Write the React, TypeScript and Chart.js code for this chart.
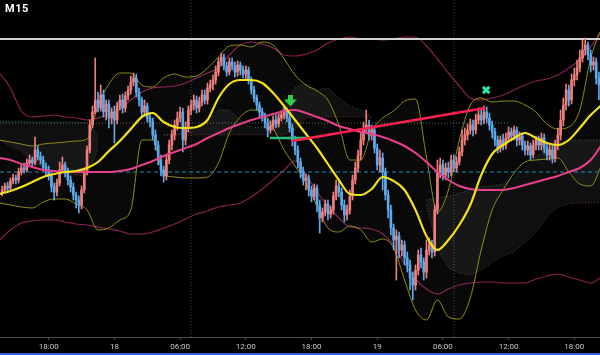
import React, { useEffect, useRef } from "react";
import { Chart, registerables } from "chart.js";
Chart.register(...registerables);

// ---- candles (15-minute bars, price in chart units, larger = lower on screen) ----
const firstBar = 1;
const opens = [
  193,190,186,188,181,178,180,172,168,170, 163,160,163,150,157,160,167,170,176,187,
  192,183,170,165,172,180,187,195,200,205, 190,172,150,125,112,100,108,95,112,104,
  118,112,120,106,100,108,96,90,82,78, 92,100,112,106,118,122,135,145,160,170,
  176,160,145,135,125,118,112,140,128,110, 105,100,108,102,95,100,88,85,80,72,
  62,57,66,72,62,66,72,65,70,74, 70,80,90,98,105,112,117,123,130,126,
  120,124,118,115,110,118,128,140,150,162, 172,180,178,190,196,188,205,218,212,204,
  214,210,196,186,192,205,215,210,196,180, 168,155,140,128,125,135,130,148,165,158,
  172,195,210,228,240,236,250,245,258,265, 278,285,270,255,262,272,250,245,252,210,
  172,165,175,168,172,160,168,162,152,140, 135,130,125,130,120,115,120,112,118,125,
  132,140,148,140,145,138,132,136,130,140, 136,145,150,146,155,145,140,145,138,148,
  155,150,158,145,135,120,105,90,100,80, 75,68,58,50,45,55,65,62,78,
];
const highs = [
  186,183,182,178,174,175,168,164,163,159, 155,157,137,146,152,156,163,166,173,183,
  179,162,157,162,168,176,183,192,196,186, 168,146,120,106,58,92,85,90,100,100,
  108,106,102,95,94,92,86,76,73,74, 88,97,100,103,113,118,130,141,155,166,
  155,140,130,120,112,107,108,122,106,100, 95,96,97,90,90,83,80,75,66,58,
  53,54,62,58,58,62,61,62,66,66, 67,77,86,95,102,108,113,119,121,116,
  115,114,111,107,108,114,124,136,146,158, 167,174,175,186,184,185,200,208,200,200,
  206,192,180,182,188,200,205,190,175,162, 150,133,122,110,120,125,126,144,150,153,
  168,190,205,224,230,232,240,241,252,260, 272,265,250,248,258,240,238,240,205,160,
  158,160,163,162,155,155,157,147,130,128, 124,119,120,114,108,110,106,107,113,121,
  128,136,136,134,133,127,128,126,127,132, 133,141,141,143,140,136,136,133,134,144,
  145,146,140,128,110,98,84,85,74,68, 60,50,40,38,42,50,57,58,72,
];
const lows = [
  196,192,191,190,184,184,183,175,173,172, 165,167,165,160,164,171,175,180,192,200,
  196,186,172,177,185,192,200,208,213,209, 193,175,153,128,114,112,111,117,120,128,
  124,143,124,110,113,112,100,94,86,97, 106,117,116,122,127,140,150,165,176,182,
  180,164,150,140,130,122,152,145,132,115, 110,113,112,106,104,104,92,90,84,76,
  66,70,76,75,70,77,76,75,78,79, 84,94,102,110,117,121,128,137,133,130,
  128,127,121,119,122,132,146,155,168,178, 185,190,196,202,200,212,233,222,216,220,
  218,214,200,197,210,222,220,214,200,184, 172,160,145,132,140,140,153,170,172,190,
  200,218,235,250,280,258,256,265,272,290, 300,290,275,268,280,278,255,258,256,214,
  178,180,180,178,176,172,172,165,156,145, 140,134,136,134,124,125,124,123,130,138,
  146,153,152,150,149,142,141,140,146,145, 150,155,155,160,158,150,150,150,153,160,
  160,163,162,150,140,126,110,106,104,86, 80,72,62,55,60,72,70,84,100,
];
const closes = [
  190,186,188,181,178,180,172,168,170,163, 160,163,150,157,160,167,170,176,187,192,
  183,170,165,172,180,187,195,200,205,190, 172,150,125,112,100,108,95,112,104,118,
  112,120,106,100,108,96,90,82,78,92, 100,112,106,118,122,135,145,160,170,176,
  160,145,135,125,118,112,140,128,110,105, 100,108,102,95,100,88,85,80,72,62,
  57,66,72,62,66,72,65,70,74,70, 80,90,98,105,112,117,123,130,126,120,
  124,118,115,110,118,128,140,150,162,172, 180,178,190,196,188,205,218,212,204,214,
  210,196,186,192,205,215,210,196,180,168, 155,140,128,125,135,130,148,165,158,172,
  195,210,228,240,236,250,245,258,265,278, 285,270,255,262,272,250,245,252,210,172,
  165,175,168,172,160,168,162,152,140,135, 130,125,130,120,115,120,112,118,125,132,
  140,148,140,145,138,132,136,130,140,136, 145,150,146,155,145,140,145,138,148,155,
  150,158,145,135,120,105,90,100,80,75, 68,58,50,45,55,65,62,78,85,
];

// ---- time axis ----
const tickIndex = [18, 42, 66, 90, 114, 138, 162, 186, 210];
const tickLabels = ["18:00", "18", "06:00", "12:00", "18:00", "19", "06:00", "12:00", "18:00"];
const viewStart = 0.21;
const viewEnd = 219.39;
const sessionMarks = [70, 166];

// ---- indicators sampled every 4 bars ----
const gridIdx = [
  0,4,8,12,16,20,24,28,32,36,40,44,48,52,56,60,64,68,72,76,80,84,88,92,96,100,104,108,
  112,116,120,124,128,132,136,140,144,148,152,156,160,164,168,172,176,180,184,188,192,
  196,200,204,208,212,216,220,
];
const yellowMA = [
  194,191,187,182,177,174,172,171,168,162, 151,141,129,117,113,122,127,128,127,120,
  98,84,80,80,83,93,106,120,134,148, 164,180,194,195,189,177,181,190,210,236,
  250,240,225,205,175,154,145,138,133,138, 143,145,140,128,115,105,
];
const pinkMA = [
  158,160,164,167,170,171,172,172,172,172, 172,171,169,165,161,156,152,148,144,138,
  133,128,124,120,117,114,111,110,113,117, 121,126,129,132,134,137,141,146,153,162,
  172,180,186,189,190,190,190,188,185,182, 179,176,172,168,160,145,
];
const bbUpper = [
  140,142,144,146,144,143,142,141,139,106, 84,73,73,85,87,78,74,77,76,68,
  57,46,45,47,42,45,59,75,85,91, 100,125,160,160,131,118,111,101,99,157,
  212,190,140,105,98,102,101,101,105,112, 124,129,127,110,58,28,
];
const bbLower = [
  203,205,207,208,202,199,199,204,210,230, 228,220,210,140,140,174,177,178,178,177,
  163,133,117,110,112,128,150,166,183,206, 228,232,226,230,242,239,248,280,310,320,
  300,317,319,298,250,210,190,173,162,160, 159,158,172,184,186,165,
];
const envUpper = [
  73,88,111,117,116,115,117,118,120,118, 114,109,100,92,88,87,86,83,78,73,
  68,55,45,42,44,48,55,56,54,50, 43,39,37,39,39,40,39,37,37,46,
  59,73,86,98,100,98,95,90,85,81, 79,75,68,60,47,30,
];
const envLower = [
  240,230,223,221,220,220,222,224,225,227, 229,231,234,234,232,228,224,219,214,211,
  207,205,203,197,189,180,170,161,175,192, 206,218,227,228,229,234,245,264,279,289,
  294,289,285,283,282,282,283,283,283,279, 276,274,277,280,283,277,
];
const cloudTop = [
  121,121,121,122,122,122,122,122,123,135, null,null,null,null,null,135,134,132,128,120,
  110,110,120,128,127,122,105,88,84,90, 88,98,106,110,117,null,null,null,null,200,
  198,196,193,190,187,186,184,178,168,157, 148,143,141,140,140,140,
];
const cloudBottom = [
  140,146,151,161,168,171,173,175,176,150, null,null,null,null,null,135,135,135,135,135,
  135,135,135,135,135,135,135,130,118,117, 117,117,117,117,118,null,null,null,null,205,
  250,268,273,275,270,262,256,252,243,232, 217,207,204,203,203,203,
];

// ---- levels and drawings ----
const levelWhite = 39;
const levelCyan = 172;
const levelDotted = 123;
const levelDottedEnd = 186.5;
const greenIdx = [98.8, 112.7];
const greenPrice = [138, 138];
const trendIdx = [106.9, 177.4];
const trendPrice = [141, 108];
const arrowIdx = 106.3;
const arrowPrice = 101;
const crossIdx = 177.8;
const crossPrice = 90;

const UP = "#ef7f7c";
const DOWN = "#5eaaea";

export default function App() {
  const ref = useRef<HTMLCanvasElement>(null);
  useEffect(() => {
    const canvas = ref.current!;
    const arrow = document.createElement("canvas");
    arrow.width = 13;
    arrow.height = 13;
    const g = arrow.getContext("2d")!;
    g.fillStyle = "#33cf4a";
    g.fillRect(4, 0, 5, 6);
    g.beginPath();
    g.moveTo(0, 5);
    g.lineTo(13, 5);
    g.lineTo(6.5, 12);
    g.closePath();
    g.fill();

    const isUp = (k: number) => closes[k] < opens[k];
    const candleColor = (c: any) => (isUp(c.dataIndex) ? UP : DOWN);
    const series = (vals: (number | null)[]) => gridIdx.map((x, k) => ({ x, y: vals[k] }));
    const seg = (xs: number[], ys: number[]) => xs.map((x, k) => ({ x, y: ys[k] }));
    const lineBase = { type: "line" as const, pointRadius: 0, pointHoverRadius: 0, tension: 0, fill: false, spanGaps: false };

    const datasets: any[] = [
      // markers
      { type: "scatter", data: [{ x: arrowIdx, y: arrowPrice }], pointStyle: arrow, pointRadius: 6, order: 0 },
      { type: "scatter", data: [{ x: crossIdx, y: crossPrice }], pointStyle: "crossRot", pointRadius: 4.5, borderWidth: 3, borderColor: "#2ee8a6", backgroundColor: "#2ee8a6", order: 0 },
      // drawings
      { ...lineBase, data: seg(trendIdx, trendPrice), borderColor: "#ff2152", borderWidth: 2.5, order: 1 },
      { ...lineBase, data: seg(greenIdx, greenPrice), borderColor: "#22c07c", borderWidth: 2.5, order: 1 },
      // moving averages
      { ...lineBase, data: series(yellowMA), borderColor: "#f3e21b", borderWidth: 2.2, cubicInterpolationMode: "monotone", order: 2 },
      { ...lineBase, data: series(pinkMA), borderColor: "#e9408d", borderWidth: 2, cubicInterpolationMode: "monotone", order: 3 },
      // candles
      { type: "bar", data: opens.map((o, k) => ({ x: firstBar + k, y: [o, closes[k]] })), backgroundColor: candleColor, barThickness: 2, minBarLength: 1, grouped: false, borderWidth: 0, order: 4 },
      { type: "bar", data: highs.map((h, k) => ({ x: firstBar + k, y: [h, lows[k]] })), backgroundColor: candleColor, barThickness: 1, grouped: false, borderWidth: 0, order: 5 },
      // levels
      { ...lineBase, data: seg([viewStart, viewEnd], [levelCyan, levelCyan]), borderColor: "#1f8dbb", borderWidth: 1, borderDash: [4, 3], order: 6 },
      { ...lineBase, data: seg([viewStart, viewEnd], [levelWhite, levelWhite]), borderColor: "#d2d2d2", borderWidth: 2, order: 6 },
      { ...lineBase, data: seg([viewStart, levelDottedEnd], [levelDotted, levelDotted]), borderColor: "rgba(110,150,110,0.75)", borderWidth: 1, borderDash: [1, 2], order: 7 },
      // bollinger bands
      { ...lineBase, data: series(bbUpper), borderColor: "#8e8c14", borderWidth: 1, cubicInterpolationMode: "monotone", fill: "+1", backgroundColor: "rgba(255,255,255,0.035)", order: 8 },
      { ...lineBase, data: series(bbLower), borderColor: "#8e8c14", borderWidth: 1, cubicInterpolationMode: "monotone", order: 8 },
      // envelope
      { ...lineBase, data: series(envUpper), borderColor: "#86204f", borderWidth: 1.2, cubicInterpolationMode: "monotone", order: 9 },
      { ...lineBase, data: series(envLower), borderColor: "#86204f", borderWidth: 1.2, cubicInterpolationMode: "monotone", order: 9 },
      // cloud
      { ...lineBase, data: series(cloudTop), borderColor: "rgba(50,110,115,0.8)", borderWidth: 1, borderDash: [1, 2], fill: "+1", backgroundColor: "rgba(255,255,255,0.06)", order: 10 },
      { ...lineBase, data: series(cloudBottom), borderColor: "rgba(125,50,60,0.8)", borderWidth: 1, borderDash: [1, 2], order: 10 },
      // session separators
      ...sessionMarks.map((m) => ({ ...lineBase, data: seg([m, m], [0, 337]), borderColor: "#454545", borderWidth: 1, borderDash: [1, 2], order: 11 })),
    ];

    const chart = new Chart(canvas, {
      type: "bar",
      data: { datasets },
      options: {
        animation: false,
        responsive: false,
        devicePixelRatio: 1,
        layout: { padding: 0, autoPadding: false },
        plugins: { legend: { display: false }, tooltip: { enabled: false } },
        events: [],
        scales: {
          x: {
            type: "linear",
            min: viewStart,
            max: viewEnd,
            offset: false,
            grid: { display: true, drawOnChartArea: false, drawTicks: true, tickLength: 3, color: "#4a4a4a", offset: false },
            border: { display: true, color: "#4a4a4a" },
            ticks: {
              autoSkip: false,
              maxRotation: 0,
              color: "#c8c8c8",
              padding: 2,
              font: { size: 8, family: "Roboto" },
              callback: (v: any) => {
                const k = tickIndex.indexOf(Number(v));
                return k >= 0 ? tickLabels[k] : "";
              },
            },
            afterBuildTicks: (ax: any) => {
              ax.ticks = tickIndex.map((v) => ({ value: v }));
            },
            afterFit: (ax: any) => {
              ax.height = 18;
            },
          },
          y: { type: "linear", min: 0, max: 337, reverse: true, display: false },
        },
      } as any,
    });
    return () => chart.destroy();
  }, []);

  return (
    <div style={{ position: "fixed", left: 0, top: 0, width: 600, height: 355, background: "#000", overflow: "hidden" }}>
      <canvas ref={ref} width={600} height={355} style={{ display: "block", width: 600, height: 355 }} />
      <div style={{ position: "absolute", left: 5, top: 2, color: "#fff", font: "bold 11px Roboto, sans-serif", letterSpacing: 0.5 }}>M15</div>
      <div style={{ position: "absolute", left: 0, bottom: 0, width: 600, height: 2, background: "#2a62d6" }} />
    </div>
  );
}
